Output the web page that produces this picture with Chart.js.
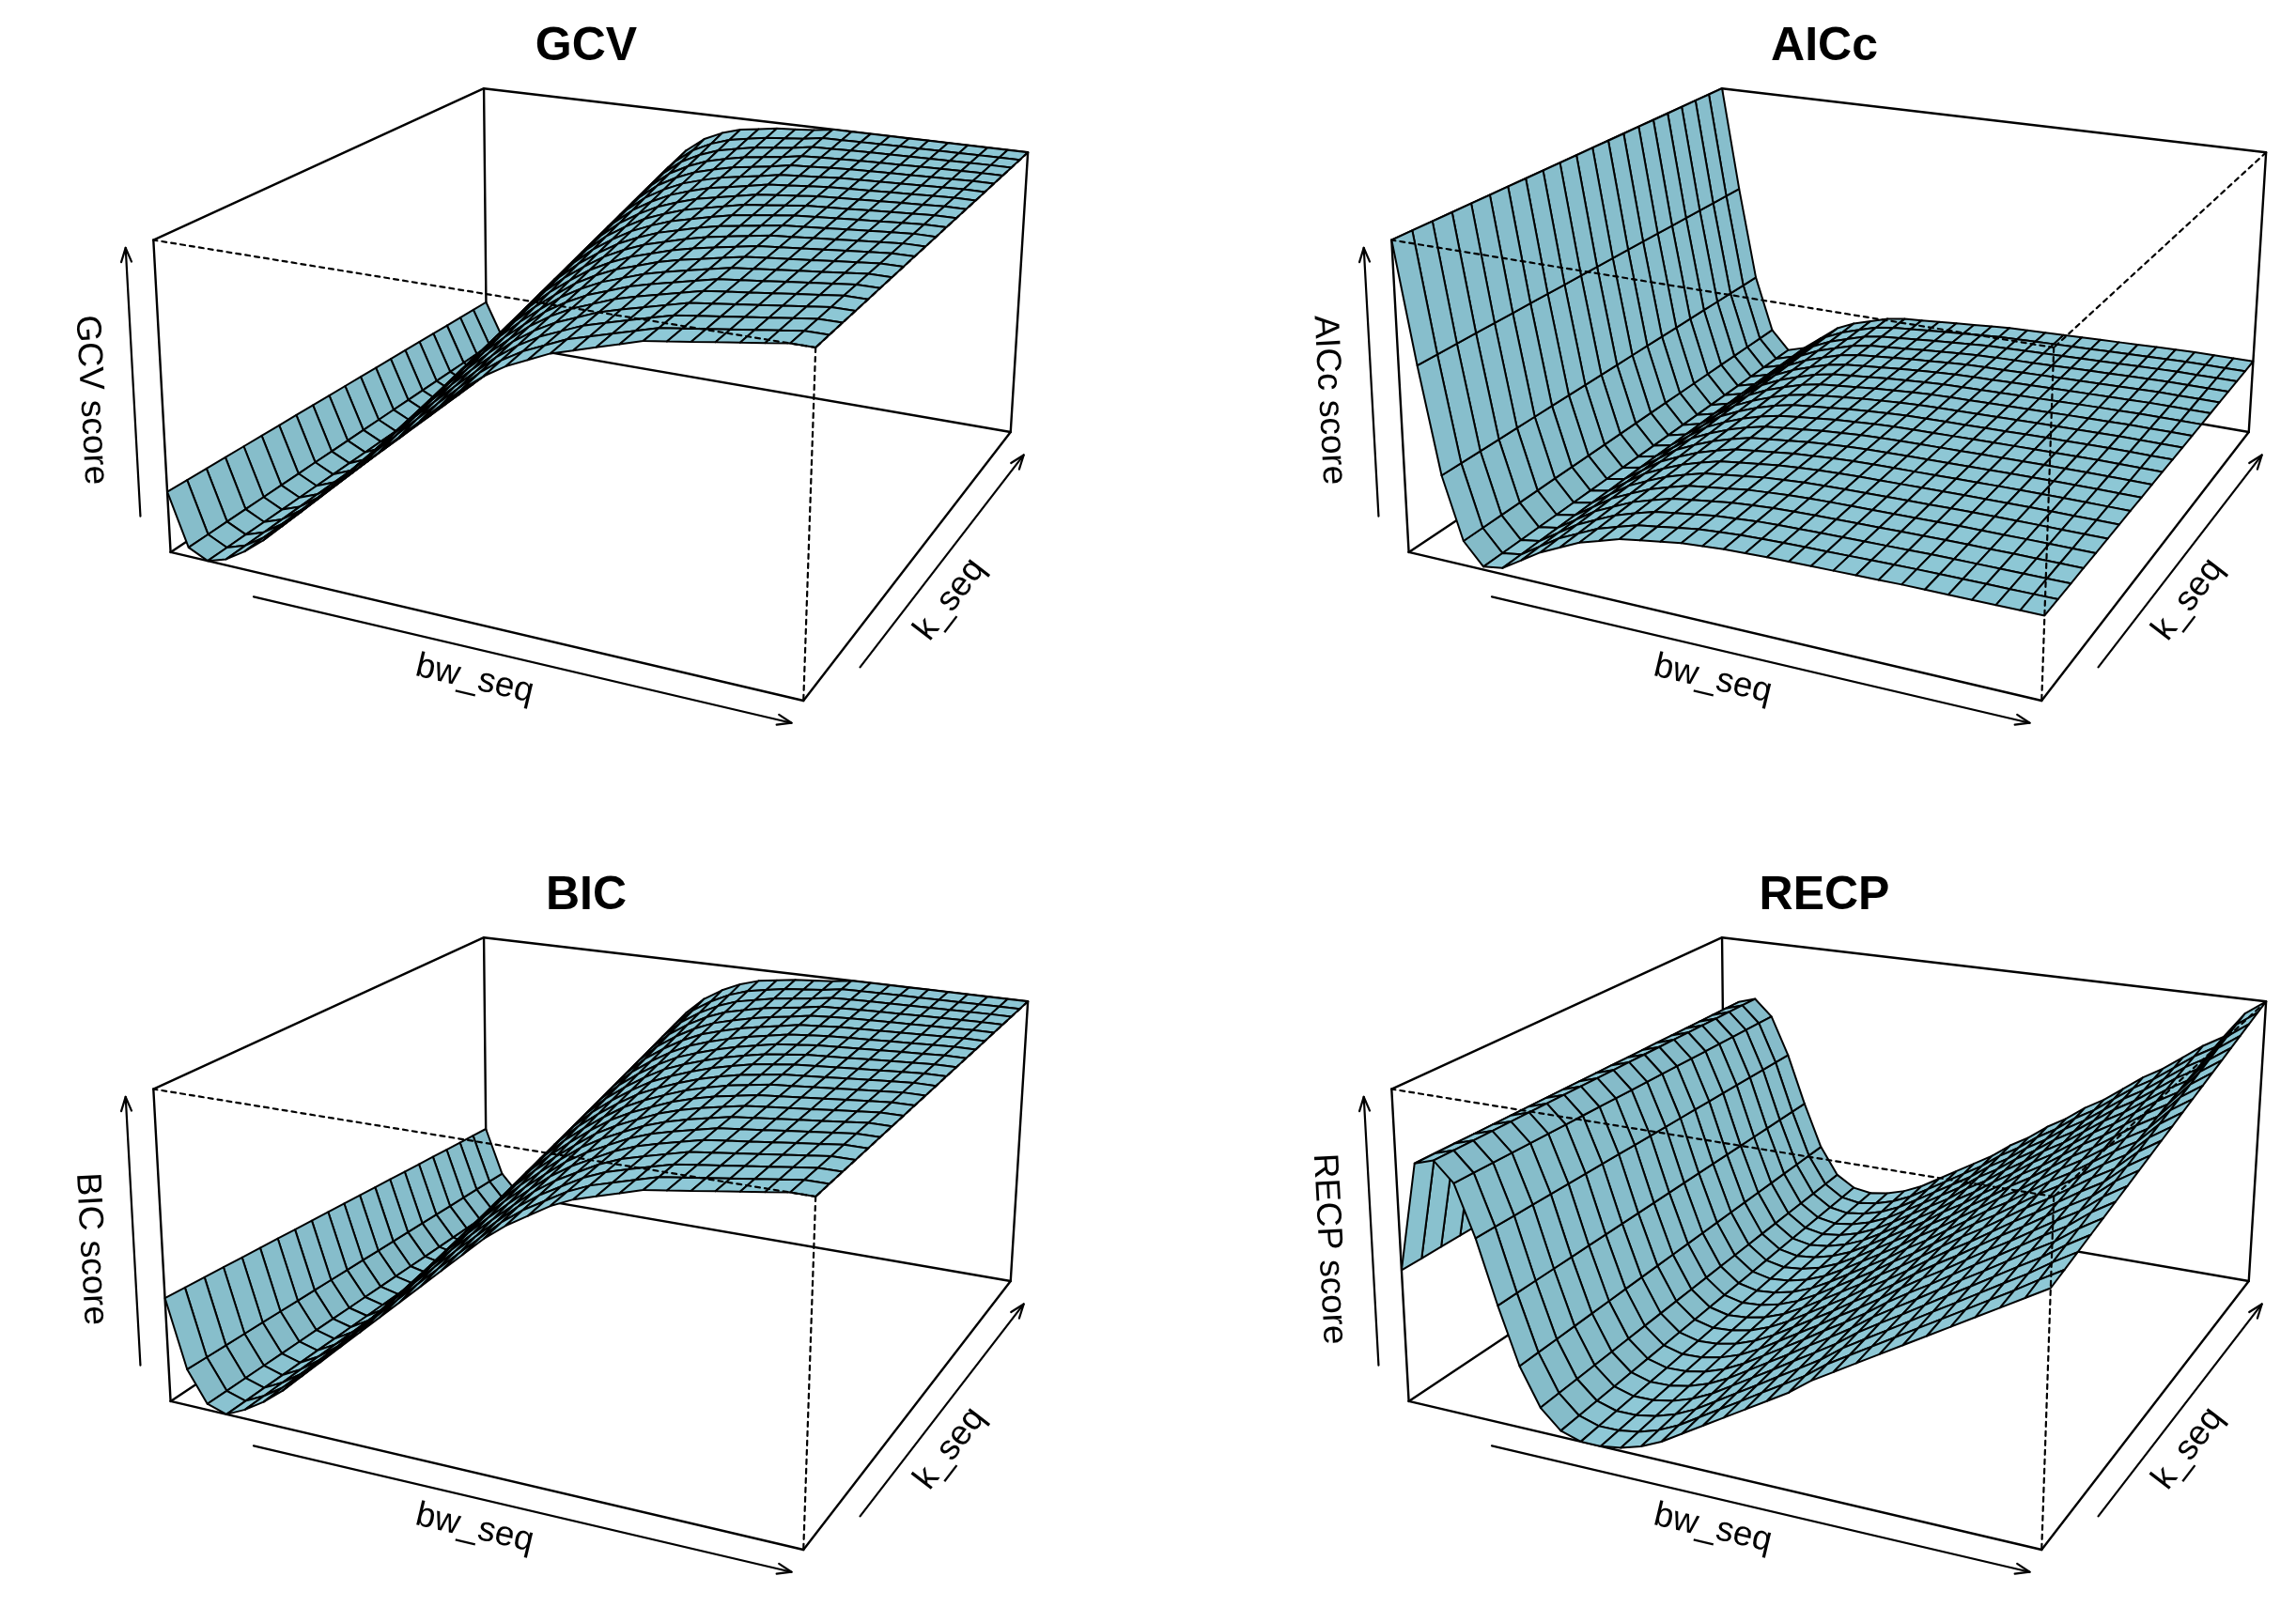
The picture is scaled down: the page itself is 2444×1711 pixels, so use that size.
<!DOCTYPE html>
<html>
<head>
<meta charset="utf-8">
<script src="https://cdn.jsdelivr.net/npm/chart.js@4.4.0/dist/chart.umd.min.js"></script>
<style>
  body { margin: 0; background: #fff; width: 2444px; height: 1711px; position: relative; overflow: hidden; }
  canvas { position: absolute; }
</style>
</head>
<body>
<canvas id="c0" width="1126" height="807" style="left:0;top:0"></canvas>
<canvas id="c1" width="1126" height="807" style="left:1318px;top:0"></canvas>
<canvas id="c2" width="1126" height="807" style="left:0;top:904px"></canvas>
<canvas id="c3" width="1126" height="807" style="left:1318px;top:904px"></canvas>
<script>
// grid of the surfaces
const bw_seq = [0.05,0.10,0.15,0.20,0.25,0.30,0.35,0.40,0.45,0.50,0.55,0.60,0.65,0.70,0.75,0.80,
                0.85,0.90,0.95,1.00,1.05,1.10,1.15,1.20,1.25,1.30,1.35,1.40,1.45,1.50,1.55];
const k_seq = [1,2,3,4,5,6,7,8,9,10,11,12,13,14,15,16,17,18,19,20,21];
// share of the back profile at each k (0 = front profile, 1 = back profile)
const kWeight = [0,0.05,0.10,0.15,0.20,0.25,0.30,0.35,0.40,0.45,0.50,0.55,0.60,0.65,0.70,0.75,0.80,0.85,0.90,0.95,1];

// scaled scores (0 = lowest, 1 = highest) along bw_seq, at the first and last k
const gcvFront = [.20,.03,.00,.02,.06,.11,.17,.23,.29,.35,.41,.47,.53,.59,.65,.71,.76,.80,.83,.86,.88,.90,.92,.94,.95,.96,.97,.98,.99,1,1];
const gcvBack  = [.16,.03,.00,.04,.10,.18,.27,.37,.48,.59,.70,.79,.86,.91,.94,.96,.97,.98,.985,.99,1,1,1,1,1,1,1,1,1,1,1];
const aiccFront = [1,.62,.28,.08,.01,.02,.06,.10,.13,.16,.18,.20,.21,.22,.23,.235,.24,.242,.244,.245,.246,.247,.248,.249,.25,.25,.25,.25,.25,.25,.25];
const aiccBack  = [1,.62,.28,.08,.01,.03,.08,.13,.16,.18,.20,.21,.215,.22,.225,.23,.235,.24,.242,.244,.246,.248,.25,.252,.254,.256,.258,.26,.26,.26,.26];
const bicFront = [.34,.12,.02,.00,.03,.07,.12,.18,.24,.30,.36,.42,.48,.54,.60,.66,.72,.77,.81,.85,.88,.90,.92,.94,.95,.96,.97,.98,.99,1,1];
const bicBack  = [.25,.08,.01,.00,.05,.12,.20,.30,.41,.52,.63,.73,.81,.87,.91,.94,.96,.97,.98,.985,.99,1,1,1,1,1,1,1,1,1,1];
const recpFront = [.43,.78,.80,.74,.58,.38,.20,.08,.02,0,0,.01,.03,.06,.10,.14,.18,.22,.26,.30,.35,.39,.43,.47,.51,.55,.59,.63,.67,.71,.75];
const recpBack  = [.45,.76,.78,.72,.58,.40,.24,.14,.10,.09,.10,.12,.15,.19,.23,.27,.31,.36,.40,.45,.49,.54,.58,.63,.68,.72,.77,.82,.86,.95,1];

const panels = [
  { id: 'c0', title: 'GCV', zlab: 'GCV score', front: gcvFront, back: gcvBack },
  { id: 'c1', title: 'AICc', zlab: 'AICc score', front: aiccFront, back: aiccBack },
  { id: 'c2', title: 'BIC', zlab: 'BIC score', front: bicFront, back: bicBack },
  { id: 'c3', title: 'RECP', zlab: 'RECP score', front: recpFront, back: recpBack }
];

// camera fitted to where the box corners sit in each panel
const cube = [[-1,1,1],[1,1,1],[-1,-1,1],[1,-1,1],[-1,-1,-1],[1,-1,-1],[1,1,-1],[-1,1,-1]];
const cornerPx = [[516,99],[1096,162],[161,255],[867,364],[185,596],[855,743],[1075,467],[516,353]];

function fitCamera() {
  const A = [], b = [];
  cube.forEach((p, i) => {
    const [X, Y, Z] = p, [u, v] = cornerPx[i];
    A.push([X, Y, Z, 1, 0, 0, 0, 0, -u*X, -u*Y, -u*Z]); b.push(u);
    A.push([0, 0, 0, 0, X, Y, Z, 1, -v*X, -v*Y, -v*Z]); b.push(v);
  });
  const n = 11, M = [];
  for (let r = 0; r < n; r++) {
    M.push([]);
    for (let c = 0; c < n; c++) M[r].push(A.reduce((s, row) => s + row[r]*row[c], 0));
    M[r].push(A.reduce((s, row, k) => s + row[r]*b[k], 0));
  }
  for (let c = 0; c < n; c++) {
    let piv = c;
    for (let r = c+1; r < n; r++) if (Math.abs(M[r][c]) > Math.abs(M[piv][c])) piv = r;
    [M[c], M[piv]] = [M[piv], M[c]];
    for (let r = 0; r < n; r++) if (r !== c) {
      const f = M[r][c] / M[c][c];
      for (let k = c; k <= n; k++) M[r][k] -= f*M[c][k];
    }
  }
  return M.map((row, i) => row[n] / row[i]);
}
const cam = fitCamera();
function project(x, y, z) {
  const w = cam[8]*x + cam[9]*y + cam[10]*z + 1;
  return { u: (cam[0]*x + cam[1]*y + cam[2]*z + cam[3]) / w, v: (cam[4]*x + cam[5]*y + cam[6]*z + cam[7]) / w, w: w };
}
const nearSign = project(1,-1,1).w < project(-1,1,-1).w ? 1 : -1;

const baseCol = [142, 200, 214];
const light = (() => { const l = [-0.35, -0.45, 0.82]; const m = Math.hypot(...l); return l.map(a => a/m); })();

const surfacePlugin = {
  id: 'surface',
  afterDatasetsDraw(chart, args, opts) {
    const p = opts.panel, ctx = chart.ctx;
    const sx = chart.scales.x, sy = chart.scales.y;
    const bwMin = bw_seq[0], bwMax = bw_seq[bw_seq.length-1];
    const kMin = k_seq[0], kMax = k_seq[k_seq.length-1];
    const pt = (x, y, z) => { const q = project(x, y, z); return { px: sx.getPixelForValue(q.u), py: sy.getPixelForValue(q.v), d: q.w*nearSign }; };

    // 3d grid
    const G = bw_seq.map((bw, i) => k_seq.map((k, j) => {
      const s = p.front[i] + kWeight[j]*(p.back[i] - p.front[i]);
      return [-1 + 2*(bw - bwMin)/(bwMax - bwMin), -1 + 2*(k - kMin)/(kMax - kMin), -1 + 2*s];
    }));

    const C = cube.map(c => pt(...c));
    const edges = [[0,1],[1,3],[3,2],[2,0],[7,6],[6,5],[5,4],[4,7],[0,7],[1,6],[3,5],[2,4]];
    const near = 3;
    ctx.save();
    ctx.lineCap = 'round';
    ctx.strokeStyle = '#000';
    ctx.lineWidth = 2.4;
    edges.filter(e => !e.includes(near)).forEach(e => {
      ctx.beginPath(); ctx.moveTo(C[e[0]].px, C[e[0]].py); ctx.lineTo(C[e[1]].px, C[e[1]].py); ctx.stroke();
    });

    // facets, far to near
    const facets = [];
    for (let i = 0; i < bw_seq.length-1; i++) for (let j = 0; j < k_seq.length-1; j++) {
      const q = [G[i][j], G[i+1][j], G[i+1][j+1], G[i][j+1]];
      const a = [q[2][0]-q[0][0], q[2][1]-q[0][1], q[2][2]-q[0][2]];
      const b = [q[3][0]-q[1][0], q[3][1]-q[1][1], q[3][2]-q[1][2]];
      let nrm = [a[1]*b[2]-a[2]*b[1], a[2]*b[0]-a[0]*b[2], a[0]*b[1]-a[1]*b[0]];
      const m = Math.hypot(...nrm) || 1; nrm = nrm.map(c => c/m);
      const dot = Math.abs(nrm[0]*light[0] + nrm[1]*light[1] + nrm[2]*light[2]);
      const pts = q.map(c => pt(...c));
      facets.push({ pts, d: pts.reduce((s, c) => s + c.d, 0)/4, f: 0.93 + 0.08*dot });
    }
    facets.sort((a, b) => b.d - a.d);
    ctx.lineWidth = 2;
    ctx.lineJoin = 'round';
    facets.forEach(f => {
      ctx.beginPath();
      f.pts.forEach((c, k) => k ? ctx.lineTo(c.px, c.py) : ctx.moveTo(c.px, c.py));
      ctx.closePath();
      ctx.fillStyle = `rgb(${baseCol.map(c => Math.min(255, Math.round(c*f.f))).join(',')})`;
      ctx.fill();
      ctx.stroke();
    });

    // front box edges, dotted
    ctx.lineWidth = 2.2;
    ctx.setLineDash([5, 5]);
    edges.filter(e => e.includes(near)).forEach(e => {
      ctx.beginPath(); ctx.moveTo(C[e[0]].px, C[e[0]].py); ctx.lineTo(C[e[1]].px, C[e[1]].py); ctx.stroke();
    });
    ctx.setLineDash([]);

    // axis arrows and labels
    const axis = (A, B, t0, t1, off, labOff, label, flip) => {
      const dx = B.px - A.px, dy = B.py - A.py, L = Math.hypot(dx, dy);
      const ux = dx/L, uy = dy/L;
      let nx = -uy, ny = ux;
      if (flip) { nx = -nx; ny = -ny; }
      const s = { x: A.px + dx*t0 + nx*off, y: A.py + dy*t0 + ny*off };
      const e = { x: A.px + dx*t1 + nx*off, y: A.py + dy*t1 + ny*off };
      ctx.lineWidth = 2.2;
      ctx.beginPath(); ctx.moveTo(s.x, s.y); ctx.lineTo(e.x, e.y); ctx.stroke();
      const h = 16, ang = Math.atan2(uy, ux);
      ctx.beginPath();
      ctx.moveTo(e.x - h*Math.cos(ang - 0.35), e.y - h*Math.sin(ang - 0.35));
      ctx.lineTo(e.x, e.y);
      ctx.lineTo(e.x - h*Math.cos(ang + 0.35), e.y - h*Math.sin(ang + 0.35));
      ctx.stroke();
      const mx = A.px + dx*0.5 + nx*labOff, my = A.py + dy*0.5 + ny*labOff;
      ctx.save();
      ctx.translate(mx, my);
      let ra = ang;
      if (label.endsWith('score')) ra = Math.atan2(-dy, -dx);
      ctx.rotate(ra);
      ctx.fillStyle = '#000';
      ctx.font = '37px "Liberation Sans", Arial, sans-serif';
      ctx.textAlign = 'center'; ctx.textBaseline = 'middle';
      ctx.fillText(label, 0, 0);
      ctx.restore();
    };
    axis(C[4], C[5], 0.14, 0.99, 26, 58, 'bw_seq', false);
    axis(C[5], C[6], 0.18, 0.97, 26, 58, 'k_seq', false);
    axis(C[4], C[2], 0.12, 0.98, 30, 76, p.zlab, true);

    ctx.fillStyle = '#000';
    ctx.font = 'bold 50px "Liberation Sans", Arial, sans-serif';
    ctx.textAlign = 'center'; ctx.textBaseline = 'middle';
    ctx.fillText(p.title, 624, 50);
    ctx.restore();
  }
};

panels.forEach(p => {
  const el = document.getElementById(p.id);
  new Chart(el.getContext('2d'), {
    type: 'scatter',
    data: { datasets: [{ data: [] }] },
    options: {
      responsive: false,
      animation: false,
      devicePixelRatio: 1,
      layout: { padding: 0 },
      plugins: { legend: { display: false }, tooltip: { enabled: false }, surface: { panel: p } },
      scales: {
        x: { type: 'linear', min: 0, max: el.width, display: false },
        y: { type: 'linear', min: 0, max: el.height, reverse: true, display: false }
      }
    },
    plugins: [surfacePlugin]
  });
});
</script>
</body>
</html>
